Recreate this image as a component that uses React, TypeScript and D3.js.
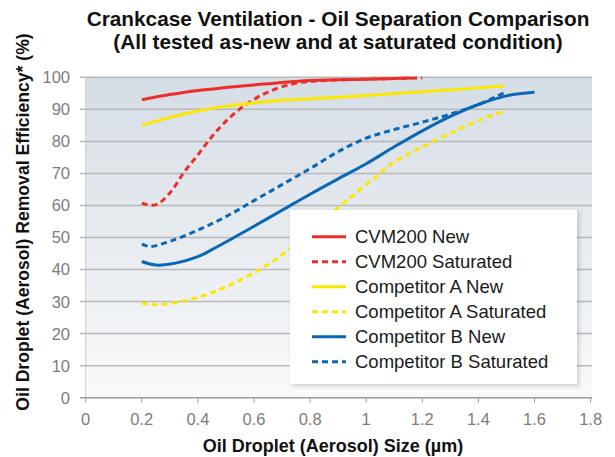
import React from "react";
import * as d3 from "d3";

const xTicks = [0, 0.2, 0.4, 0.6, 0.8, 1, 1.2, 1.4, 1.6, 1.8];
const yTicks = [0, 10, 20, 30, 40, 50, 60, 70, 80, 90, 100];

const cvmNewX = [0.2, 0.3, 0.4, 0.5, 0.6, 0.7, 0.8, 0.9, 1.0, 1.1, 1.16];
const cvmNewY = [93, 94.6, 95.9, 96.8, 97.6, 98.4, 99, 99.2, 99.4, 99.6, 99.8];

const cvmSatX = [0.2, 0.25, 0.3, 0.35, 0.4, 0.45, 0.5, 0.56, 0.64, 0.74, 0.85, 1.0, 1.1, 1.2];
const cvmSatY = [60.7, 60.2, 63.9, 70.3, 75.8, 81.5, 86.3, 90.8, 95, 98, 99, 99.4, 99.6, 99.8];

const compANewX = [0.2, 0.3, 0.4, 0.5, 0.6, 0.7, 0.8, 0.9, 1.0, 1.2, 1.4, 1.49];
const compANewY = [85, 87.5, 89.5, 91, 92, 92.8, 93.3, 93.8, 94.3, 95.5, 96.7, 97.3];

const compASatX = [0.2, 0.25, 0.3, 0.4, 0.5, 0.6, 0.7, 0.8, 0.9, 1.0, 1.1, 1.2, 1.3, 1.4, 1.49];
const compASatY = [29.5, 29, 29.4, 31.3, 34.6, 39, 44.6, 52, 59.3, 66.5, 73.5, 78.3, 82.5, 86.5, 89.4];

const compBNewX = [0.2, 0.25, 0.32, 0.4, 0.45, 0.5, 0.6, 0.7, 0.8, 0.9, 1.0, 1.1, 1.2, 1.3, 1.4, 1.5, 1.6];
const compBNewY = [42.5, 41.4, 42, 44, 46.2, 48.6, 53.5, 58.5, 63.5, 68.3, 73, 78.3, 83.3, 87.8, 91.5, 94.2, 95.3];

const compBSatX = [0.2, 0.23, 0.3, 0.4, 0.5, 0.6, 0.7, 0.8, 0.9, 1.0, 1.1, 1.2, 1.3, 1.4, 1.5];
const compBSatY = [47.9, 47.2, 48.8, 52.3, 56.5, 61.5, 66.5, 71.5, 76.8, 81, 83.7, 86, 88.5, 91.5, 95.5];

const seriesNames = [
  "CVM200 New",
  "CVM200 Saturated",
  "Competitor A New",
  "Competitor A Saturated",
  "Competitor B New",
  "Competitor B Saturated",
];
const seriesX = [cvmNewX, cvmSatX, compANewX, compASatX, compBNewX, compBSatX];
const seriesY = [cvmNewY, cvmSatY, compANewY, compASatY, compBNewY, compBSatY];
const seriesColors = ["#ec2d2a", "#ec2d2a", "#fde600", "#fde600", "#0a67b5", "#0a67b5"];
const seriesDashed = [false, true, false, true, false, true];

const W = 615;
const H = 457;
const FONT = "'Liberation Sans', Arial, Helvetica, sans-serif";

export default function App() {
  const x = d3.scaleLinear().domain([0, 1.8]).range([85.7, 590.6]);
  const y = d3.scaleLinear().domain([0, 100]).range([397.7, 77.3]);
  const plotLeft = x(0);
  const plotRight = 592;
  const line = d3
    .line<[number, number]>()
    .x((d) => x(d[0]))
    .y((d) => y(d[1]))
    .curve(d3.curveCatmullRom.alpha(0.5));

  const legX = 290;
  const legY = 210;
  const legW = 287;
  const legH = 174;

  return (
    <svg
      width={W}
      height={H}
      style={{ position: "absolute", left: 0, top: 0, background: "#fff" }}
      fontFamily={FONT}
    >
      <defs>
        <linearGradient id="bg" x1="0" y1="0" x2="0" y2="1">
          <stop offset="0%" stopColor="#d5dde5" />
          <stop offset="100%" stopColor="#f9fafb" />
        </linearGradient>
        <filter id="shadow" x="-10%" y="-10%" width="125%" height="125%">
          <feDropShadow dx="2" dy="2" stdDeviation="2" floodColor="#000" floodOpacity="0.18" />
        </filter>
      </defs>

      <text x={338} y={26} textAnchor="middle" fontWeight="bold" fontSize={20.8} fill="#111">
        Crankcase Ventilation - Oil Separation Comparison
      </text>
      <text x={338} y={48.5} textAnchor="middle" fontWeight="bold" fontSize={20.8} fill="#111">
        (All tested as-new and at saturated condition)
      </text>

      <rect x={plotLeft} y={y(100)} width={plotRight - plotLeft} height={y(0) - y(100)} fill="url(#bg)" />
      <line x1={plotLeft} x2={plotLeft} y1={y(100)} y2={y(0)} stroke="#c8cdd2" strokeWidth={1} />

      {yTicks.map((t) => (
        <g key={"y" + t}>
          <line
            x1={80}
            x2={plotRight}
            y1={y(t)}
            y2={y(t)}
            stroke={t === 0 ? "#9a9a9a" : "#b8b9bb"}
            strokeWidth={1.5}
          />
          <text x={70} y={y(t)} dy="0.36em" textAnchor="end" fontSize={16.5} fill="#7d7d7d">
            {t}
          </text>
        </g>
      ))}

      {xTicks.map((t) => (
        <g key={"x" + t}>
          <line x1={x(t)} x2={x(t)} y1={y(0)} y2={y(0) + 5} stroke="#9a9a9a" strokeWidth={1} />
          <text x={x(t)} y={425} textAnchor="middle" fontSize={16.5} fill="#7d7d7d">
            {String(t)}
          </text>
        </g>
      ))}

      {seriesNames.map((name, i) => {
        const pts = seriesX[i].map((v, j) => [v, seriesY[i][j]] as [number, number]);
        return (
          <path
            key={name}
            d={line(pts) || ""}
            fill="none"
            stroke={seriesColors[i]}
            strokeWidth={3}
            strokeDasharray={seriesDashed[i] ? "6,4" : undefined}
            strokeLinecap="butt"
          />
        );
      })}

      <rect x={legX} y={legY} width={legW} height={legH} fill="#fff" filter="url(#shadow)" />
      {seriesNames.map((name, i) => {
        const cy = 236.7 + i * 25;
        return (
          <g key={"leg" + name}>
            <line
              x1={312}
              x2={346}
              y1={cy}
              y2={cy}
              stroke={seriesColors[i]}
              strokeWidth={3}
              strokeDasharray={seriesDashed[i] ? "6,4" : undefined}
            />
            <text x={355} y={cy} dy="0.36em" fontSize={18.5} fill="#1a1a1a">
              {name}
            </text>
          </g>
        );
      })}

      <text x={333} y={452} textAnchor="middle" fontWeight="bold" fontSize={18} fill="#111">
        Oil Droplet (Aerosol) Size (µm)
      </text>
      <text
        transform={`translate(29, 222) rotate(-90)`}
        textAnchor="middle"
        fontWeight="bold"
        fontSize={17.6}
        fill="#111"
      >
        Oil Droplet (Aerosol) Removal Efficiency* (%)
      </text>
    </svg>
  );
}
